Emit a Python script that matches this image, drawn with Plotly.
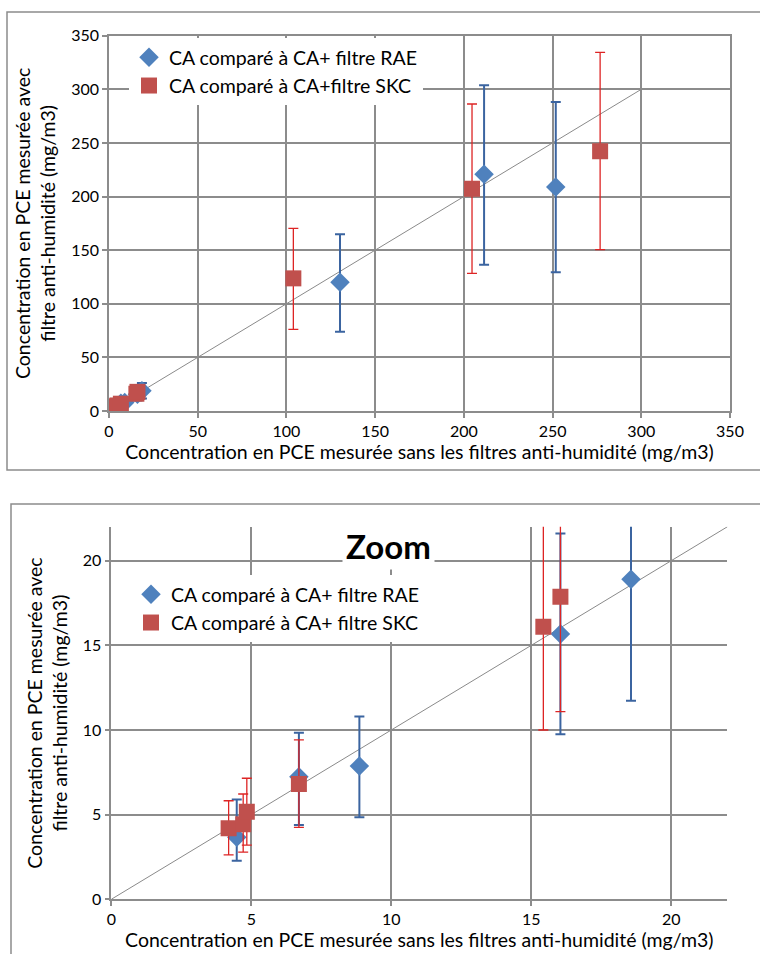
import plotly.graph_objects as go

# ---- data ----
rae_x = [4.48, 6.70, 8.86, 16.04, 18.56, 130.2, 211.4, 251.8]
rae_y = [3.66, 7.24, 7.87, 15.67, 18.9, 120.0, 220.7, 208.9]
rae_lo = [2.28, 4.39, 4.84, 9.75, 11.73, 74.0, 136.4, 129.3]
rae_hi = [5.9, 9.84, 10.8, 21.6, 26.0, 164.8, 303.7, 288.1]

skc_x = [4.19, 4.71, 4.84, 6.70, 15.43, 16.04, 103.9, 204.6, 276.8]
skc_y = [4.19, 4.43, 5.17, 6.81, 16.1, 17.87, 123.7, 207.3, 242.2]
skc_lo = [2.62, 2.79, 3.2, 4.25, 10.0, 11.08, 76.2, 128.4, 150.5]
skc_hi = [5.82, 6.22, 7.15, 9.41, 22.5, 24.5, 170.3, 286.3, 334.5]

diag = [0, 300]

top_ticks = [0, 50, 100, 150, 200, 250, 300, 350]
zoom_ticks = [0, 5, 10, 15, 20]

name_rae = "CA comparé à CA+ filtre RAE"
name_skc_top = "CA comparé à CA+filtre SKC"
name_skc_zoom = "CA comparé à CA+ filtre SKC"
x_title = "Concentration en PCE mesurée sans les filtres anti-humidité (mg/m3)"
y_title = "Concentration en PCE mesurée avec<br>filtre anti-humidité (mg/m3)"

# ---- styles ----
W, H = 760, 954
FONT = "Lato"
GRID = "#8c8c8c"
BLUE = "#4f81bd"
BLUE_EB = "#3b64a0"
RED = "#c0504d"
RED_EB = "#dd2424"

def px_x(p):
    return p / W

def px_y(p):
    return 1 - p / H

def diff(a, b):
    return [u - v for u, v in zip(a, b)]

fig = go.Figure()

for suffix, xa, ya, leg, skc_name in [("", "x", "y", "legend", name_skc_top),
                                      ("2", "x2", "y2", "legend2", name_skc_zoom)]:
    fig.add_trace(go.Scatter(x=diag, y=diag, mode="lines", xaxis=xa, yaxis=ya,
                             line=dict(color="#8a8a8a", width=1), showlegend=False,
                             hoverinfo="skip"))
    fig.add_trace(go.Scatter(
        x=rae_x, y=rae_y, mode="markers", name=name_rae, xaxis=xa, yaxis=ya,
        legend=leg, legendgroup="a" + suffix,
        marker=dict(symbol="diamond", size=15, color=BLUE),
        error_y=dict(type="data", symmetric=False, array=diff(rae_hi, rae_y),
                     arrayminus=diff(rae_y, rae_lo), color=BLUE_EB, thickness=2, width=5)))
    fig.add_trace(go.Scatter(
        x=skc_x, y=skc_y, mode="markers", name=skc_name, xaxis=xa, yaxis=ya,
        legend=leg, legendgroup="b" + suffix,
        marker=dict(symbol="square", size=16, color=RED),
        error_y=dict(type="data", symmetric=False, array=diff(skc_hi, skc_y),
                     arrayminus=diff(skc_y, skc_lo), color=RED_EB, thickness=1.3, width=5)))

axis_common = dict(showgrid=True, gridcolor=GRID, gridwidth=1.5, showline=True,
                   linecolor=GRID, linewidth=1.5, ticks="outside", ticklen=5,
                   tickcolor=GRID, tickwidth=1.5, zeroline=False,
                   tickfont=dict(family=FONT, size=16, color="#000"),
                   title_font=dict(family=FONT, size=19.5, color="#000"),
                   automargin=False)

leg_font = dict(family=FONT, size=19.5, color="#000")

fig.update_layout(
    width=W, height=H, margin=dict(l=0, r=0, t=0, b=0),
    paper_bgcolor="white", plot_bgcolor="white", font=dict(family=FONT),
    showlegend=True,
    xaxis=dict(axis_common, domain=[px_x(109), px_x(730)], range=[0, 350],
               tickvals=top_ticks, mirror=True, anchor="y",
               title=dict(text=x_title, standoff=5)),
    yaxis=dict(axis_common, domain=[px_y(411), px_y(35.7)], range=[0, 350],
               tickvals=top_ticks, mirror=True, anchor="x",
               title=dict(text=y_title, standoff=10)),
    xaxis2=dict(axis_common, domain=[px_x(111.3), px_x(727.3)], range=[0, 22],
                tickvals=zoom_ticks, anchor="y2",
                title=dict(text=x_title, standoff=4)),
    yaxis2=dict(axis_common, domain=[px_y(899.3), px_y(526.8)], range=[0, 22],
                tickvals=zoom_ticks, anchor="x2",
                title=dict(text=y_title, standoff=10)),
    legend=dict(x=px_x(129), y=px_y(38), xanchor="left", yanchor="top",
                bgcolor="white", font=leg_font,
                traceorder="grouped", tracegroupgap=0, borderwidth=0),
    legend2=dict(x=px_x(131), y=px_y(575), xanchor="left", yanchor="top",
                 bgcolor="white", font=leg_font,
                 traceorder="grouped", tracegroupgap=0, borderwidth=0),
    shapes=[
        dict(type="rect", xref="paper", yref="paper", x0=px_x(7), x1=1.05,
             y0=px_y(470), y1=px_y(12), line=dict(color="#8c8c8c", width=1.5),
             layer="below"),
        dict(type="rect", xref="paper", yref="paper", x0=px_x(11), x1=1.05,
             y0=-0.05, y1=px_y(504), line=dict(color="#8c8c8c", width=1.5),
             layer="below"),
    ],
    annotations=[
        dict(text="<b>Zoom</b>", xref="paper", yref="paper", x=px_x(388), y=px_y(546),
             xanchor="center", yanchor="middle", showarrow=False, bgcolor="white",
             font=dict(family=FONT, size=33, color="#000"), borderpad=3),
    ],
)

fig.write_html("out.html")
